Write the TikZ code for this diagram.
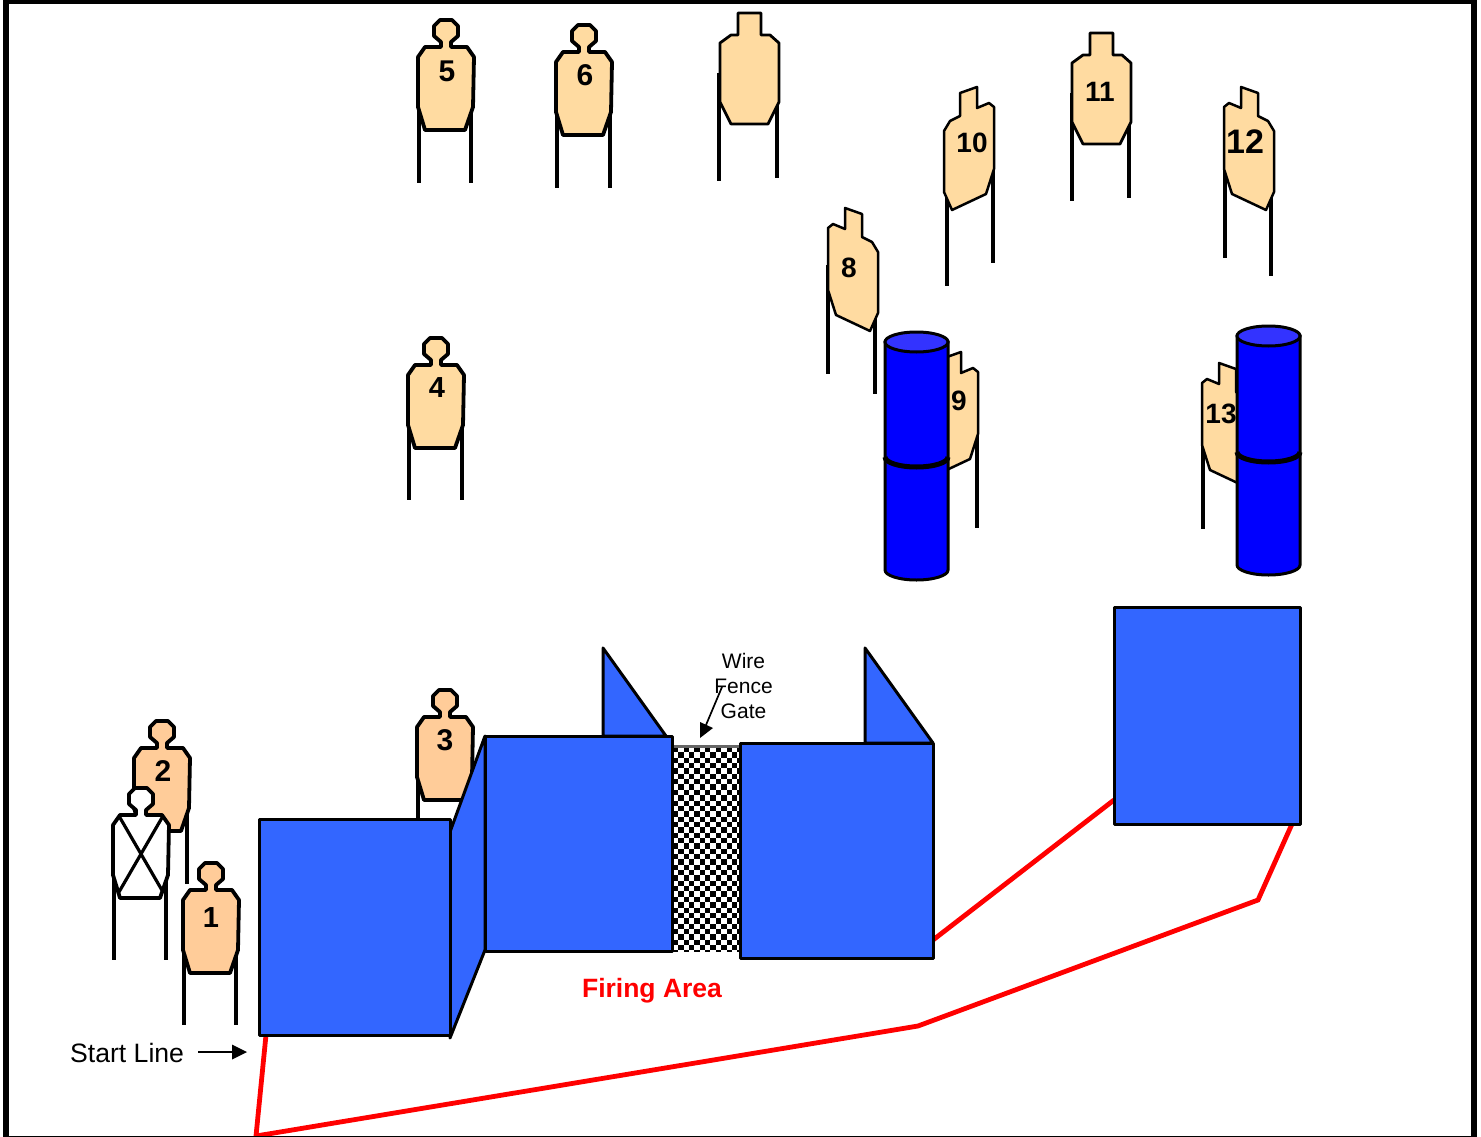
\documentclass[tikz,border=0pt]{standalone}
\usepackage{fontspec}
\setmainfont{Liberation Sans}
\definecolor{wallblue}{HTML}{3366FF}
\definecolor{drumblue}{HTML}{0000FF}
\definecolor{drumtop}{HTML}{3333FF}
\definecolor{tan}{HTML}{FFDBA1}
\definecolor{peach}{HTML}{FFCC99}
\tikzset{
  leg/.style={line width=4.4pt},
  outline/.style={line width=3.8pt,line join=round,draw=black},
  wall/.style={line width=3pt,line join=round,draw=black,fill=wallblue},
  num/.style={font=\bfseries\fontsize{#1pt}{32pt}\selectfont,inner sep=0pt},
  num/.default=30,
  redline/.style={line width=4.8pt,draw=red,line join=miter},
  lbl/.style={font=\fontsize{21pt}{25pt}\selectfont,inner sep=0pt,align=center}
}
% #1 x of centre, #2 y of top, #3 fill
\newcommand{\sil}[3]{\draw[outline,fill=#3,shift={(#1,#2)}]
 (-6,1)--(6,1)--(12,7)--(12,17)--(5,23)--(5,28)--(21,28)--(28,38)--(27,88)--(19,111)--(-21,111)--(-28,88)--(-28,38)--(-21,28)--(-5,28)--(-5,23)--(-12,17)--(-12,7)--cycle;}
\newcommand{\sq}[2]{\draw[outline,line width=2.8pt,fill=tan,shift={(#1,#2)}]
 (-11,0)--(12,0)--(12,22)--(21,22)--(30,30)--(30,89)--(19,111)--(-18,111)--(-29,89)--(-29,30)--(-18,22)--(-11,22)--cycle;}
% #1 x scale (1 or -1), #2 x, #3 y of peak
\newcommand{\ang}[3]{\draw[outline,line width=2.5pt,fill=tan,shift={(#2,#3)},xscale=#1]
 (0,1)--(17,7)--(17,30)--(27,35)--(33,45)--(33,106)--(25,124)--(-9,108)--(-17,83)--(-17,21)--(-12,17)--(0,22)--cycle;}
\newcommand{\drum}[4]{% x left, x right, top cy, seam cy ; bottom = seam+113
 \pgfmathsetmacro{\cx}{(#1+#2)/2}\pgfmathsetmacro{\rx}{(#2-#1)/2}
 \pgfmathsetmacro{\bt}{#4+113}
 \draw[line width=3pt,fill=drumblue] (#1,#3)--(#1,\bt) arc[start angle=180,end angle=360,x radius=\rx,y radius=-10] --(#2,#3)--cycle;
 \draw[line width=3pt,fill=drumtop] (\cx,#3) ellipse[x radius=\rx,y radius=10];
 \draw[line width=5pt] (#1,#4) arc[start angle=180,end angle=360,x radius=\rx,y radius=-10];}
\begin{document}
\begin{tikzpicture}[x=1pt,y=-1pt]
\useasboundingbox (0,0) rectangle (1481,1137);
\fill[white] (0,0) rectangle (1481,1137);
% top row
\draw[leg] (419,105)--(419,183) (471,110)--(471,183);
\sil{446}{19}{tan}\node[num] (n5) at (447,71) {5};
\draw[leg] (557,110)--(557,188) (610,115)--(610,188);
\sil{584}{24}{tan}\node[num] (n6) at (585,75) {6};
\draw[leg] (719,73)--(719,181) (777,100)--(777,178);
\sq{749}{13}
\draw[leg] (1072,93)--(1072,201) (1129,120)--(1129,198);
\sq{1101}{33}\node[num=28] (n11) at (1100,92) {11};
% angled
\draw[leg] (947,170)--(947,286) (993,157)--(993,263);
\ang{-1}{977}{86}\node[num=28] (n10) at (972,143) {10};
\draw[leg] (1225,170)--(1225,258) (1271,190)--(1271,276);
\ang{1}{1241}{86}\node[num=34] (n12) at (1245,142) {12};
\draw[leg] (828,265)--(828,374) (875,313)--(875,394);
\ang{1}{845}{207}\node[num=28] (n8) at (849,268) {8};
\draw[leg] (977,420)--(977,528);
\ang{-1}{961}{351}\node[num=28] (n9) at (959,401) {9};
\draw[leg] (1203,420)--(1203,529);
\ang{1}{1219}{362}\node[num=28] (n13) at (1221,414) {13};
\drum{885}{948}{342}{457}
\drum{1237}{1300}{336}{452}
% 4
\draw[leg] (409,420)--(409,500) (462,425)--(462,500);
\sil{436}{337}{tan}\node[num=29] (n4) at (437,388) {4};
% 2, blank, 1, 3
\draw[leg] (187,800)--(187,884);
\sil{162}{720}{peach}\node[num] (n2) at (163,771) {2};
\draw[leg] (114,870)--(114,960) (166,870)--(166,960);
\sil{141}{787}{white}
\draw[line width=3.2pt] (119,816)--(163,892) (163,816)--(119,892);
\draw[leg] (184,950)--(184,1025) (236,950)--(236,1025);
\sil{211}{862}{peach}\node[num=29] (n1) at (211,918) {1};
\draw[leg] (418,780)--(418,825);
\sil{445}{689}{peach}\node[num] (n3) at (445,740) {3};
% gate
\begin{scope}
\clip (672,746) rectangle (740,951);
\fill[white] (672,746) rectangle (740,951);
\foreach \i in {0,...,13}{\foreach \j in {0,...,39}{
  \pgfmathparse{int(mod(\i+\j,2))}
  \ifnum\pgfmathresult=0 \fill[black] ({673+5.35*\i},{747+5.35*\j}) rectangle ++(5.35,5.35);\fi}}
\end{scope}
\draw[line width=3pt,draw=black!60] (672,746)--(740,746);
% walls
\draw[redline] (266,1035)--(256,1136)--(918,1026)--(1258,900)--(1292,824);
\draw[redline] (933,940)--(1114,800);
\draw[wall] (603,736)--(603,648)--(666,736)--cycle;
\draw[wall] (865,743)--(865,648)--(933,743)--cycle;
\draw[wall] (450,832)--(485,736)--(485,950)--(450,1038)--cycle;
\draw[wall] (259,819) rectangle (450,1035);
\draw[wall] (485,736) rectangle (672,951);
\draw[wall] (740,743) rectangle (933,958);
\draw[wall] (1114,607) rectangle (1300,824);
% labels
\node[lbl] (gate) at (743.5,686) {Wire\\Fence\\Gate};
\coordinate (gs) at (722,687);
\coordinate (ge) at (700,738);
\draw[line width=1.7pt] (gs)--(706,725);
\fill (ge)--(700,722)--(713,728)--cycle;
\node[lbl,font=\fontsize{26.6pt}{28pt}\selectfont,anchor=west] (start) at (70,1053) {Start Line};
\coordinate (ss) at (198,1052);
\coordinate (se) at (247,1052);
\draw[line width=1.7pt] (ss)--(233,1052);
\fill (se)--(232,1044.5)--(232,1059.5)--cycle;
\node[font=\bfseries\fontsize{26.5pt}{28pt}\selectfont,text=red,inner sep=0pt] (fire) at (652,991) {Firing Area};
% frame
\draw[line width=6pt] (5.5,1)--(1474,1)--(1474,1139)--(5.5,1139)--cycle;
\end{tikzpicture}
\end{document}
